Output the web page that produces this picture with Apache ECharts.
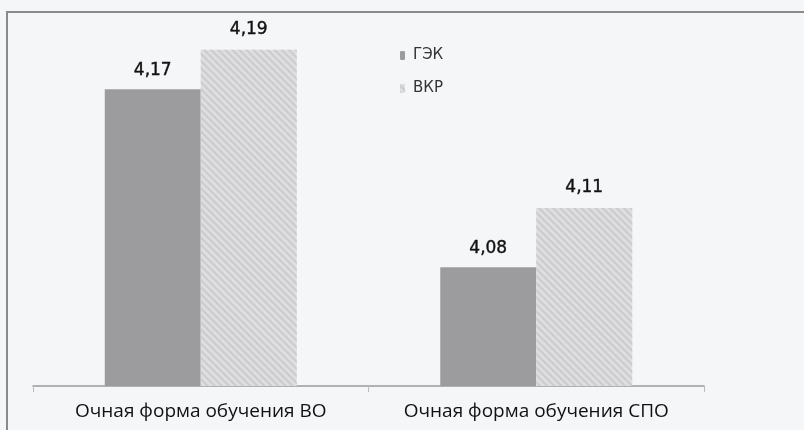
<!DOCTYPE html>
<html><head><meta charset="utf-8">
<script src="https://cdn.jsdelivr.net/npm/echarts@6/dist/echarts.min.js"></script>
<style>html,body{margin:0;padding:0;background:#f5f6f8;}#c{width:804px;height:430px;}</style>
</head><body><div id="c"></div>
<script>
var categories = ['Очная форма обучения ВО', 'Очная форма обучения СПО'];
var seriesNames = ['ГЭК', 'ВКР'];
var gekValues = [4.17, 4.08];
var vkrValues = [4.19, 4.11];

var chart = echarts.init(document.getElementById('c'));
function fmt(p){ return p.value.toFixed(2).replace('.', ','); }
var labelStyle = {show: true, position: 'top', formatter: fmt,
  fontFamily: 'DejaVu Sans', fontSize: 17, fontWeight: 'normal', color: '#111',
  textBorderColor: '#111', textBorderWidth: 0.4};
chart.setOption({
  backgroundColor: '#f5f6f8',
  animation: false,
  graphic: [{
    type: 'rect', shape: {x: 7, y: 12, width: 900, height: 500},
    style: {fill: 'none', stroke: '#8a8a8a', lineWidth: 2}, silent: true
  }],
  grid: {left: 33, right: 100, top: 30, bottom: 44},
  legend: {
    orient: 'vertical', left: 395, top: 43, itemWidth: 5, itemHeight: 9, itemGap: 18,
    textStyle: {fontFamily: 'DejaVu Sans', fontSize: 15, color: '#333', padding: [0, 0, 0, 3]},
    data: seriesNames
  },
  xAxis: {
    type: 'category', data: categories,
    axisLine: {lineStyle: {color: '#9a9a9a', width: 1.5}},
    axisTick: {show: true, length: 6, lineStyle: {color: '#bbb'}},
    axisLabel: {interval: 0, fontFamily: 'Open Sans', fontSize: 19, color: '#111', margin: 16}
  },
  yAxis: {
    type: 'value', min: 4.02, max: 4.2, show: false, splitLine: {show: false}
  },
  series: [{
    name: seriesNames[0], type: 'bar', data: gekValues, barWidth: 96, barGap: '0%',
    itemStyle: {color: '#9c9c9e'},
    label: Object.assign({distance: 10}, labelStyle)
  }, {
    name: seriesNames[1], type: 'bar', data: vkrValues, barWidth: 96,
    itemStyle: {color: '#dedee0', decal: {symbol: 'rect', symbolSize: 1, color: '#cbcbcd',
      dashArrayX: [1, 0], dashArrayY: [2, 3], rotation: Math.PI / 4}},
    label: Object.assign({distance: 12}, labelStyle)
  }]
});
</script></body></html>
